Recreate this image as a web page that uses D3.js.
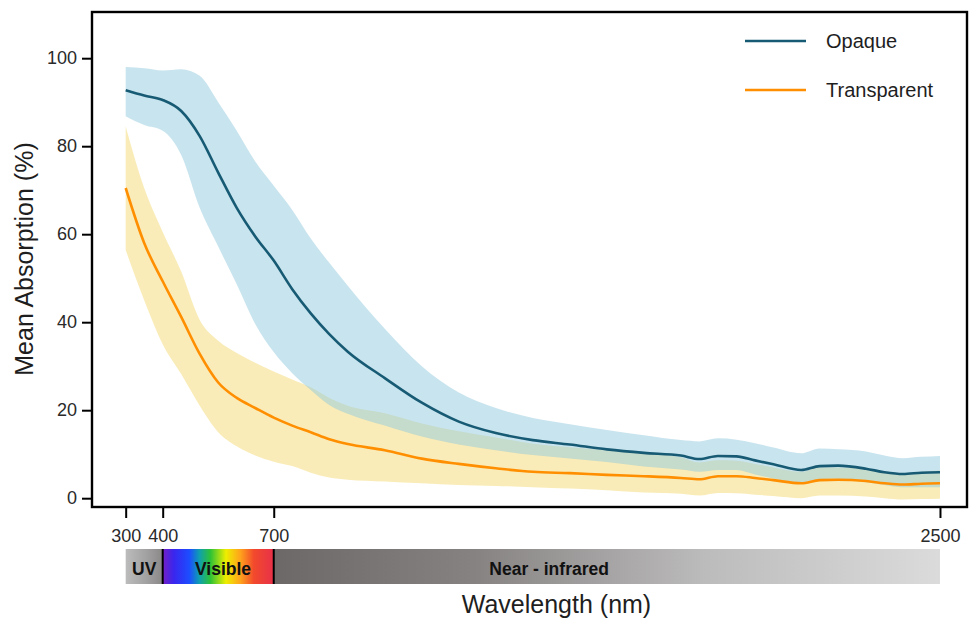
<!DOCTYPE html>
<html>
<head>
<meta charset="utf-8">
<script src="https://cdn.jsdelivr.net/npm/d3@7"></script>
<style>
	body { margin: 0; background: #fff; }
	svg text { font-family: "Liberation Sans", Arial, sans-serif; fill: #1e1e1e; }
	.axis path { display: none; }
	.axis line { stroke: #000; stroke-width: 2px; }
	.axis text { font-size: 18px; fill: #2a2a2a; }
	.bandLabel { font-weight: bold; font-size: 17.5px; fill: #111 !important; }
</style>
</head>
<body>
<div id="chart"></div>
<script>

// wavelength grid (nm) shared by every series
var wavelengths = [300, 350, 400, 450, 500, 550, 600, 650, 700, 750, 800, 850, 900, 1000, 1100, 1200, 1300, 1400, 1500, 1600, 1700, 1800, 1850, 1900, 1950, 2000, 2050, 2125, 2175, 2225, 2300, 2350, 2400, 2450, 2500];

var opaqueMean  = [92.7, 91.5, 90.5, 88.0, 82.3, 74.0, 66.0, 59.5, 54.0, 47.5, 42.0, 37.3, 33.3, 27.3, 21.7, 17.4, 14.8, 13.2, 12.2, 11.1, 10.3, 9.7, 8.9, 9.6, 9.5, 8.6, 7.7, 6.4, 7.3, 7.4, 6.7, 5.9, 5.5, 5.8, 5.9];
var opaqueUpper = [98.0, 97.7, 97.2, 97.5, 96.0, 90.0, 83.5, 76.5, 71.0, 65.5, 59.0, 53.5, 48.3, 38.5, 30.0, 24.0, 20.5, 18.2, 16.8, 15.5, 14.3, 13.2, 12.9, 13.6, 13.3, 12.5, 11.5, 10.2, 11.3, 11.1, 10.6, 9.7, 9.1, 9.4, 9.6];
var opaqueLower = [86.8, 84.8, 83.5, 78.0, 66.0, 57.2, 48.6, 39.6, 33.2, 28.4, 24.6, 21.2, 19.2, 16.5, 14.0, 12.2, 10.9, 9.8, 9.0, 8.2, 7.2, 6.5, 6.0, 6.4, 6.4, 5.4, 4.5, 3.5, 4.3, 4.4, 3.6, 3.0, 2.5, 2.5, 2.5];

var transparentMean  = [70.5, 58.0, 49.3, 41.2, 32.8, 26.3, 22.8, 20.5, 18.3, 16.5, 15.0, 13.4, 12.3, 10.9, 9.0, 7.8, 6.8, 6.0, 5.7, 5.3, 5.0, 4.6, 4.3, 5.0, 5.0, 4.6, 4.1, 3.4, 4.1, 4.2, 3.9, 3.4, 3.1, 3.3, 3.4];
var transparentUpper = [84.5, 70.5, 60.5, 51.5, 40.5, 35.8, 33.0, 30.8, 28.8, 27.0, 25.2, 22.8, 21.0, 19.3, 17.0, 15.2, 13.8, 12.4, 11.6, 10.9, 10.2, 9.3, 8.1, 8.6, 8.5, 7.8, 7.0, 6.0, 7.0, 7.0, 6.6, 6.0, 5.6, 6.0, 6.3];
var transparentLower = [56.4, 45.0, 35.0, 28.2, 21.0, 15.0, 11.8, 9.7, 8.3, 7.3, 5.8, 4.7, 4.2, 3.8, 3.4, 3.0, 2.8, 2.5, 2.2, 1.8, 1.3, 1.0, 0.6, 1.2, 1.1, 0.8, 0.5, 0.0, 0.6, 0.6, 0.4, 0.0, -0.3, -0.2, -0.1];

var xTicks = [300, 400, 700, 2500];
var yTicks = [0, 20, 40, 60, 80, 100];

var seriesNames = ["Opaque", "Transparent"];

// spectrum regions under the x axis
var regionNames = ["UV", "Visible", "Near - infrared"];
var regionStart = [300, 400, 700];
var regionEnd   = [400, 700, 2500];
var regionLabelNm = [350, 563, 1444];


var width = 969, height = 621;
var plot = { left: 92, top: 12, right: 967, bottom: 507 };

var svg = d3.select("#chart").append("svg")
	.attr("width", width).attr("height", height);

var x = d3.scaleLinear().domain([209, 2573]).range([plot.left, plot.right]);
var y = d3.scaleLinear().domain([-2, 110.5]).range([plot.bottom, plot.top]);

function rows(mean, lower, upper){
	return wavelengths.map(function(w, i){
		return { w: w, mean: mean[i], lo: lower[i], hi: upper[i] };
	});
}

var series = [
	{ name: seriesNames[0], data: rows(opaqueMean, opaqueLower, opaqueUpper), line: "#175a74", fill: "rgb(145,201,221)", opacity: 0.5 },
	{ name: seriesNames[1], data: rows(transparentMean, transparentLower, transparentUpper), line: "#ff8f00", fill: "rgb(245,223,137)", opacity: 0.6 }
];

var band = d3.area()
	.x(function(d){ return x(d.w); })
	.y0(function(d){ return y(d.lo); })
	.y1(function(d){ return y(d.hi); })
	.curve(d3.curveMonotoneX);

var line = d3.line()
	.x(function(d){ return x(d.w); })
	.y(function(d){ return y(d.mean); })
	.curve(d3.curveMonotoneX);

// bands first, yellow below blue so the overlap turns greenish
svg.append("path").attr("d", band(series[1].data))
	.attr("fill", series[1].fill).attr("fill-opacity", series[1].opacity);
svg.append("path").attr("d", band(series[0].data))
	.attr("fill", series[0].fill).attr("fill-opacity", series[0].opacity);

series.forEach(function(s){
	svg.append("path").attr("d", line(s.data))
		.attr("fill", "none").attr("stroke", s.line).attr("stroke-width", 2.6);
});

// axes
svg.append("g").attr("class", "y axis")
	.attr("transform", "translate(" + plot.left + ",0)")
	.call(d3.axisLeft(y).tickValues(yTicks).tickSize(10).tickPadding(5));

svg.append("g").attr("class", "x axis")
	.attr("transform", "translate(0," + plot.bottom + ")")
	.call(d3.axisBottom(x).tickValues(xTicks).tickFormat(d3.format("d")).tickSize(11).tickPadding(11));

// frame
svg.append("rect")
	.attr("x", plot.left).attr("y", plot.top)
	.attr("width", plot.right - plot.left).attr("height", plot.bottom - plot.top)
	.attr("fill", "none").attr("stroke", "#000").attr("stroke-width", 2.4);

// legend
var legend = svg.append("g").attr("class", "legend");
series.forEach(function(s, i){
	var ly = 41 + i * 49;
	legend.append("line")
		.attr("x1", 745).attr("x2", 806).attr("y1", ly).attr("y2", ly)
		.attr("stroke", s.line).attr("stroke-width", 2.6);
	legend.append("text")
		.attr("x", 826).attr("y", ly).attr("dy", "0.35em")
		.style("font-size", "20px")
		.text(s.name);
});

// spectrum bar
var defs = svg.append("defs");
function gradient(id, stops){
	var g = defs.append("linearGradient").attr("id", id)
		.attr("x1", "0%").attr("x2", "100%").attr("y1", "0%").attr("y2", "0%");
	stops.forEach(function(s){
		g.append("stop").attr("offset", s[0]).attr("stop-color", s[1]);
	});
}
gradient("gradUV", [[0, "#bdbcbc"], [0.55, "#a3a2a2"], [1, "#8a8787"]]);
gradient("gradVis", [[0, "#7420c4"], [0.1, "#3a26ee"], [0.24, "#1c4dff"], [0.33, "#0f9fb0"], [0.43, "#2ec236"], [0.57, "#eeee00"], [0.7, "#ffa21c"], [0.82, "#f24a2c"], [1, "#e8304a"]]);
gradient("gradNIR", [[0, "#6d6868"], [0.3, "#868282"], [0.65, "#bdbcbc"], [1, "#dbdbdb"]]);

var barTop = 549, barH = 35;
var gradIds = ["gradUV", "gradVis", "gradNIR"];
var bar = svg.append("g").attr("class", "spectrum");

regionNames.forEach(function(name, i){
	bar.append("rect")
		.attr("x", x(regionStart[i])).attr("y", barTop)
		.attr("width", x(regionEnd[i]) - x(regionStart[i])).attr("height", barH)
		.attr("fill", "url(#" + gradIds[i] + ")");
	bar.append("text")
		.attr("class", "bandLabel")
		.attr("x", x(regionLabelNm[i])).attr("y", barTop + 26)
		.attr("text-anchor", "middle")
		.text(name);
});

// black dividers at region boundaries
[regionStart[1], regionStart[2]].forEach(function(w){
	bar.append("line")
		.attr("x1", x(w)).attr("x2", x(w))
		.attr("y1", barTop).attr("y2", barTop + barH)
		.attr("stroke", "#000").attr("stroke-width", 2);
});

// axis titles
svg.append("text")
	.attr("x", (plot.left + plot.right) / 2 + 27).attr("y", 613)
	.attr("text-anchor", "middle")
	.style("font-size", "25px")
	.text("Wavelength (nm)");

svg.append("text")
	.attr("transform", "translate(33,259) rotate(-90)")
	.attr("text-anchor", "middle")
	.style("font-size", "25px")
	.text("Mean Absorption (%)");

</script>
</body>
</html>
